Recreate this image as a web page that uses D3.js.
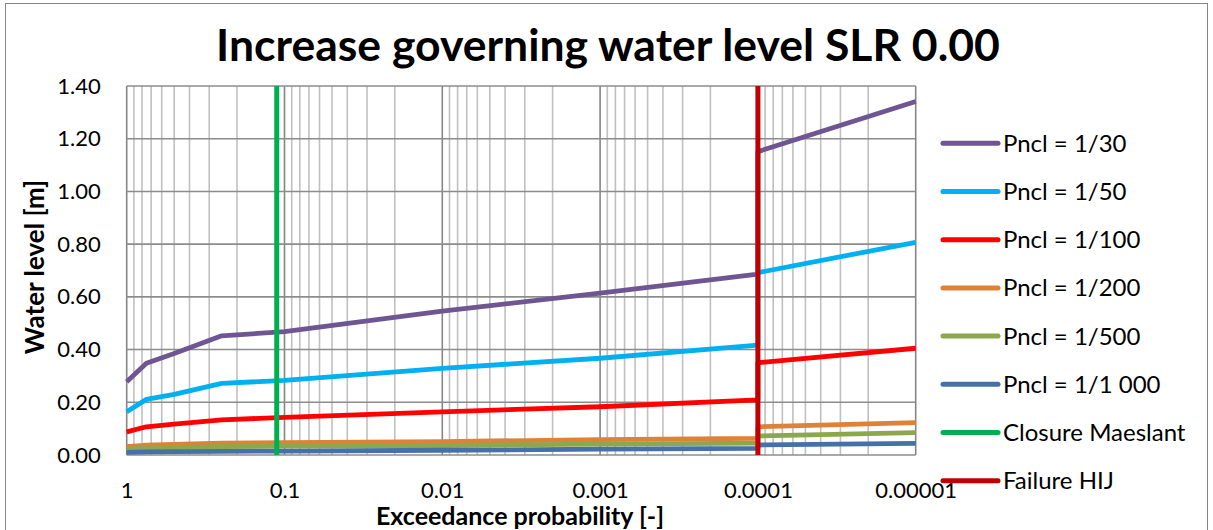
<!DOCTYPE html>
<html>
<head>
<meta charset="utf-8">
<script src="https://cdn.jsdelivr.net/npm/d3@7"></script>
<style>
  html, body { margin: 0; padding: 0; background: #fff; }
  svg { display: block; }
  text { font-family: Lato, "Open Sans", sans-serif; fill: #000; }
</style>
</head>
<body>
<svg id="chart" width="1213" height="530"></svg>
<script>
// Exceedance probabilities (the repeated 1e-4 marks the jump after HIJ failure)
const probabilities = [1, 0.75, 0.5, 0.25, 0.1, 0.01, 0.001, 0.0001, 0.0001, 0.00001];

const seriesNames = ["Pncl = 1/30", "Pncl = 1/50", "Pncl = 1/100", "Pncl = 1/200", "Pncl = 1/500", "Pncl = 1/1 000"];
const pncl30   = [0.278, 0.348, 0.385, 0.452, 0.468, 0.546, 0.614, 0.686, 1.151, 1.341];
const pncl50   = [0.164, 0.211, 0.230, 0.272, 0.283, 0.329, 0.367, 0.417, 0.692, 0.807];
const pncl100  = [0.088, 0.107, 0.117, 0.133, 0.143, 0.164, 0.183, 0.209, 0.350, 0.405];
const pncl200  = [0.032, 0.037, 0.040, 0.045, 0.047, 0.051, 0.058, 0.063, 0.107, 0.123];
const pncl500  = [0.022, 0.026, 0.028, 0.032, 0.034, 0.036, 0.041, 0.045, 0.072, 0.085];
const pncl1000 = [0.010, 0.012, 0.013, 0.014, 0.015, 0.018, 0.022, 0.025, 0.038, 0.044];
const seriesValues = [pncl30, pncl50, pncl100, pncl200, pncl500, pncl1000];
const seriesColors = ["#6F5592", "#00B0F0", "#FF0000", "#DE8238", "#8CA84C", "#4571A8"];

// Vertical event markers
const markerNames = ["Closure Maeslant", "Failure HIJ"];
const markerProbabilities = [0.112, 0.0001];
const markerColors = ["#00B050", "#C00000"];

const yTicks = [0, 0.2, 0.4, 0.6, 0.8, 1.0, 1.2, 1.4];
const xTicks = [1, 0.1, 0.01, 0.001, 0.0001, 0.00001];
const xTickLabels = ["1", "0.1", "0.01", "0.001", "0.0001", "0.00001"];

const svg = d3.select("#chart");
const plot = { left: 126.7, right: 915.7, top: 86, bottom: 455 };

const x = d3.scaleLog().domain([1, 0.00001]).range([plot.left, plot.right]);
const y = d3.scaleLinear().domain([0, 1.4]).range([plot.bottom, plot.top]);

// Chart frame
svg.append("rect").attr("x", 5.5).attr("y", 3.5).attr("width", 1202).attr("height", 540)
  .attr("fill", "#fff").attr("stroke", "#868686").attr("stroke-width", 1);

// Title
svg.append("text").attr("x", 608).attr("y", 61).attr("text-anchor", "middle")
  .attr("font-weight", "bold").attr("font-size", 44.5).text("Increase governing water level SLR 0.00");

// Minor vertical gridlines
const minor = [];
for (let e = 0; e > -5; e--) for (let m = 2; m <= 9; m++) minor.push(m * Math.pow(10, e - 1));
svg.append("g").selectAll("line").data(minor).join("line")
  .attr("x1", d => x(d)).attr("x2", d => x(d)).attr("y1", plot.top).attr("y2", plot.bottom)
  .attr("stroke", "#C0C0C0").attr("stroke-width", 1.6);

// Major vertical gridlines
svg.append("g").selectAll("line").data(xTicks).join("line")
  .attr("x1", d => x(d)).attr("x2", d => x(d)).attr("y1", plot.top).attr("y2", plot.bottom)
  .attr("stroke", "#868686").attr("stroke-width", 1.6);

// Horizontal gridlines
svg.append("g").selectAll("line").data(yTicks).join("line")
  .attr("x1", plot.left).attr("x2", plot.right).attr("y1", d => y(d)).attr("y2", d => y(d))
  .attr("stroke", "#8C8C8C").attr("stroke-width", 1.6);

// Y axis labels
const yAxis = d3.axisLeft(y).tickValues(yTicks).tickFormat(d3.format(".2f")).tickSize(0).tickPadding(26);
svg.append("g").attr("transform", `translate(${plot.left},0)`).call(yAxis)
  .call(g => g.select(".domain").remove())
  .selectAll("text").attr("font-size", 22).attr("font-family", "Lato, sans-serif").attr("fill", "#000");

// X axis labels
const xAxis = d3.axisBottom(x).tickValues(xTicks).tickFormat((d, i) => xTickLabels[i]).tickSize(0).tickPadding(27);
svg.append("g").attr("transform", `translate(0,${plot.bottom})`).call(xAxis)
  .call(g => g.select(".domain").remove())
  .selectAll("text").attr("font-size", 22).attr("font-family", "Lato, sans-serif").attr("fill", "#000");

// Axis titles
svg.append("text").attr("x", 520).attr("y", 525).attr("text-anchor", "middle")
  .attr("font-weight", "bold").attr("font-size", 25).text("Exceedance probability [-]");
svg.append("text").attr("transform", "translate(44,267) rotate(-90)").attr("text-anchor", "middle")
  .attr("font-weight", "bold").attr("font-size", 26).text("Water level [m]");

// Series lines
const line = d3.line().x(d => x(d[0])).y(d => y(d[1]));
seriesValues.forEach((vals, i) => {
  svg.append("path").datum(probabilities.map((p, j) => [p, vals[j]]))
    .attr("d", line).attr("fill", "none").attr("stroke", seriesColors[i])
    .attr("stroke-width", 4.8).attr("stroke-linejoin", "round");
});

// Event markers
markerProbabilities.forEach((p, i) => {
  svg.append("path").datum([[p, 0], [p, 1.4]]).attr("d", line)
    .attr("fill", "none").attr("stroke", markerColors[i]).attr("stroke-width", 5);
});

// Legend
const legendNames = seriesNames.concat(markerNames);
const legendColors = seriesColors.concat(markerColors);
const legend = svg.append("g").selectAll("g").data(legendNames).join("g")
  .attr("transform", (d, i) => `translate(943,${143.3 + i * 48.2})`);
legend.append("line").attr("x1", 0).attr("x2", 55).attr("y1", 0).attr("y2", 0)
  .attr("stroke", (d, i) => legendColors[i]).attr("stroke-width", 5).attr("stroke-linecap", "round");
legend.append("text").attr("x", 60).attr("y", 8.5).attr("font-size", 24).text(d => d);
</script>
</body>
</html>
